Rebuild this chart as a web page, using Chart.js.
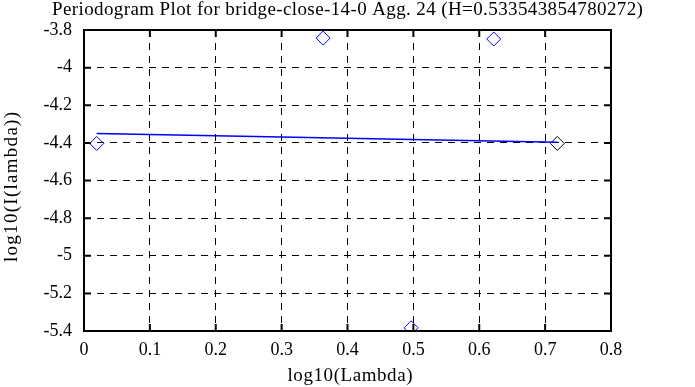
<!DOCTYPE html>
<html>
<head>
<meta charset="utf-8">
<script src="https://cdn.jsdelivr.net/npm/chart.js@4/dist/chart.umd.min.js"></script>
<style>
  html, body { margin: 0; padding: 0; background: #fff; }
  #wrap { width: 695px; height: 387px; }
</style>
</head>
<body>
<div id="wrap"><canvas id="chart" width="695" height="387"></canvas></div>
<script>
// periodogram points (log10 lambda, log10 I)
const pointX = [0.0193, 0.363, 0.622, 0.4965];
const pointY = [-4.403, -3.843, -3.848, -5.383];
// last point drawn in black
const lastX = [0.7185];
const lastY = [-4.403];
// fitted line ends
const fitX = [0.0193, 0.7185];
const fitY = [-4.350, -4.397];

const titleText = "Periodogram Plot for bridge-close-14-0 Agg. 24 (H=0.533543854780272)";
const xTitle = "log10(Lambda)";
const yTitle = "log10(I(lambda))";
const serif = "'Liberation Serif', 'DejaVu Serif', serif";

function toPoints(xs, ys) {
    let out = [];
    for (let i in xs) out.push({x: xs[i], y: ys[i]});
    return out;
}

// the original font is a bit wider than Liberation Serif, so spread letters to the same width
function spacedText(ctx, text, x, y, width) {
    ctx.letterSpacing = '0px';
    let w = ctx.measureText(text).width;
    let extra = Math.max(0, (width - w) / Math.max(1, text.length - 1));
    ctx.letterSpacing = extra.toFixed(2) + 'px';
    ctx.textAlign = 'left';
    ctx.fillText(text, x - width / 2, y);
    ctx.letterSpacing = '0px';
}

const framePlugin = {
    id: 'frame',
    afterDraw(chart) {
        const ctx = chart.ctx;
        const a = chart.chartArea;
        const xs = chart.scales.x, ys = chart.scales.y;
        ctx.save();
        ctx.strokeStyle = '#000';
        ctx.lineWidth = 2;
        ctx.strokeRect(a.left, a.top, a.right - a.left, a.bottom - a.top);
        // inward tick marks on all four sides
        ctx.beginPath();
        for (let t of xs.ticks) {
            let px = xs.getPixelForValue(t.value);
            ctx.moveTo(px, a.bottom); ctx.lineTo(px, a.bottom - 7);
            ctx.moveTo(px, a.top); ctx.lineTo(px, a.top + 7);
        }
        for (let t of ys.ticks) {
            let py = ys.getPixelForValue(t.value);
            ctx.moveTo(a.left, py); ctx.lineTo(a.left + 7, py);
            ctx.moveTo(a.right, py); ctx.lineTo(a.right - 7, py);
        }
        ctx.stroke();

        ctx.fillStyle = '#000';
        ctx.font = "19px " + serif;
        ctx.textBaseline = 'middle';
        spacedText(ctx, titleText, 347.5, 10, 591);
        spacedText(ctx, xTitle, 350, 376, 125);
        ctx.translate(12, 187);
        ctx.rotate(-Math.PI / 2);
        spacedText(ctx, yTitle, 0, 0, 150);
        ctx.restore();
    }
};

new Chart(document.getElementById('chart'), {
    type: 'scatter',
    data: {
        datasets: [
            {
                data: toPoints(fitX, fitY),
                showLine: true,
                borderColor: '#0000ff',
                borderWidth: 1.5,
                pointRadius: 0,
                fill: false
            },
            {
                data: toPoints(pointX, pointY),
                pointStyle: 'rectRot',
                pointRadius: 7,
                borderColor: '#0000ff',
                backgroundColor: 'rgba(0,0,0,0)',
                borderWidth: 1,
                showLine: false
            },
            {
                data: toPoints(lastX, lastY),
                pointStyle: 'rectRot',
                pointRadius: 7,
                borderColor: '#000000',
                backgroundColor: 'rgba(0,0,0,0)',
                borderWidth: 1,
                showLine: false
            }
        ]
    },
    options: {
        responsive: false,
        animation: false,
        layout: { padding: { top: 30, right: 84, left: 0, bottom: 0 } },
        plugins: {
            legend: { display: false },
            tooltip: { enabled: false }
        },
        scales: {
            x: {
                type: 'linear',
                min: 0, max: 0.8,
                afterFit: (s) => { s.height = 56; },
                grid: { color: '#000', lineWidth: 1, drawTicks: false },
                border: { display: false, dash: [7, 6] },
                ticks: {
                    stepSize: 0.1,
                    padding: 8,
                    color: '#000',
                    font: { family: serif, size: 18 },
                    callback: (v) => String(parseFloat(v.toFixed(1)))
                }
            },
            y: {
                type: 'linear',
                min: -5.4, max: -3.8,
                afterFit: (s) => { s.width = 84; },
                grid: { color: '#000', lineWidth: 1, drawTicks: false },
                border: { display: false, dash: [7, 6] },
                ticks: {
                    stepSize: 0.2,
                    padding: 12,
                    color: '#000',
                    font: { family: serif, size: 18 },
                    callback: (v) => String(parseFloat(v.toFixed(1)))
                }
            }
        }
    },
    plugins: [framePlugin]
});
</script>
</body>
</html>
